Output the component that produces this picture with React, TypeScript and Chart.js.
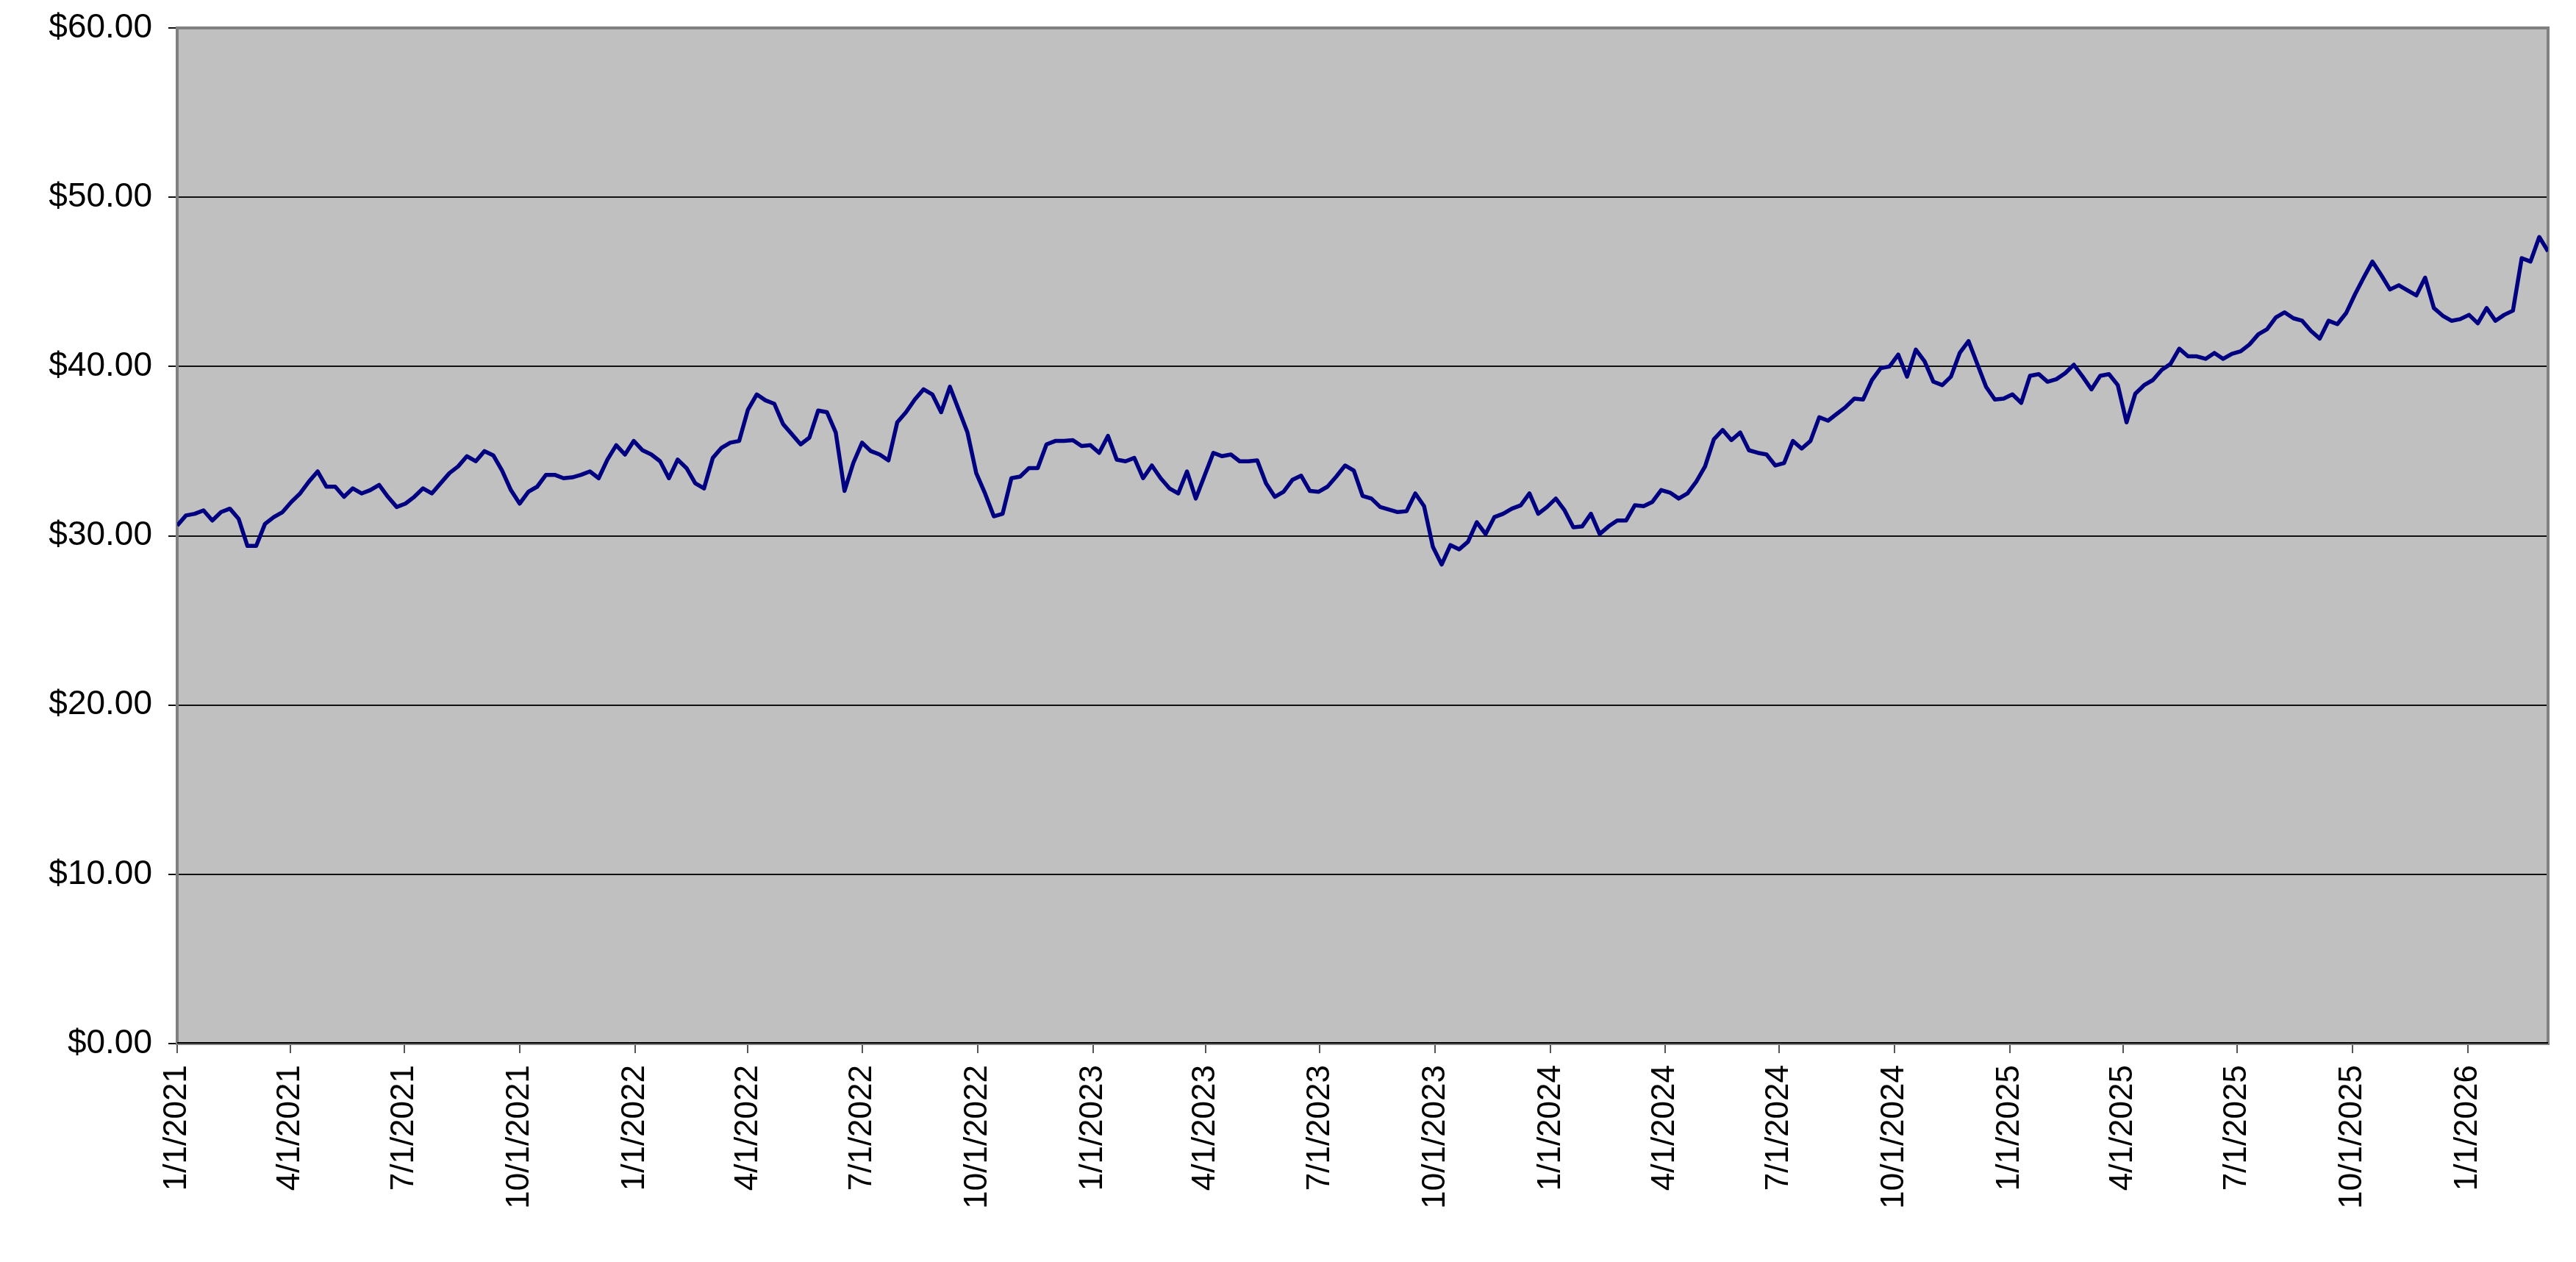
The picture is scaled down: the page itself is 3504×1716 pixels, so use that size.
import React, { useEffect, useRef } from "react";
import { Chart, registerables } from "chart.js";

Chart.register(...registerables);

// ---- data (weekly closes) ----
const FIRST_WEEK = "1/1/2021";
const AXIS_START = "1/1/2021";
const AXIS_END = "3/6/2026";

const closes2021 = [
  30.6, 31.2, 31.3, 31.5, 30.9, 31.4, 31.6, 31.0, 29.4, 29.4, 30.7, 31.1, 31.4,
  32.0, 32.5, 33.2, 33.8, 32.9, 32.9, 32.3, 32.8, 32.5, 32.7, 33.0, 32.3, 31.7,
  31.9, 32.3, 32.8, 32.5, 33.1, 33.7, 34.1, 34.7, 34.4, 35.0, 34.75, 33.85, 32.7,
  31.9, 32.6, 32.9, 33.6, 33.6, 33.4, 33.45, 33.6, 33.8, 33.4, 34.5, 35.35, 34.8,
  35.6,
];
const closes2022 = [
  35.05, 34.8, 34.4, 33.4, 34.5, 34.0, 33.1, 32.8, 34.6, 35.2, 35.5, 35.6, 37.45,
  38.35, 38.0, 37.8, 36.6, 36.0, 35.4, 35.8, 37.4, 37.3, 36.1, 32.65, 34.3, 35.5,
  35.0, 34.8, 34.45, 36.7, 37.3, 38.05, 38.65, 38.35, 37.3, 38.8, 37.45, 36.1,
  33.7, 32.5, 31.15, 31.3, 33.4, 33.5, 34.0, 34.0, 35.4, 35.6, 35.6, 35.65, 35.3,
  35.35,
];
const closes2023 = [
  34.9, 35.9, 34.5, 34.4, 34.6, 33.4, 34.15, 33.4, 32.8, 32.5, 33.8, 32.2, 33.55,
  34.9, 34.7, 34.8, 34.4, 34.4, 34.45, 33.1, 32.3, 32.6, 33.3, 33.55, 32.65, 32.6,
  32.9, 33.5, 34.15, 33.85, 32.35, 32.2, 31.7, 31.55, 31.4, 31.45, 32.5, 31.75,
  29.35, 28.3, 29.45, 29.2, 29.65, 30.8, 30.1, 31.1, 31.3, 31.6, 31.8, 32.5, 31.3,
  31.7,
];
const closes2024 = [
  32.2, 31.5, 30.5, 30.55, 31.3, 30.1, 30.55, 30.9, 30.9, 31.8, 31.75, 32.0, 32.7,
  32.55, 32.2, 32.5, 33.2, 34.1, 35.7, 36.25, 35.65, 36.1, 35.05, 34.9, 34.8,
  34.15, 34.3, 35.6, 35.15, 35.6, 37.0, 36.8, 37.2, 37.6, 38.1, 38.05, 39.2, 39.9,
  40.0, 40.7, 39.4, 41.0, 40.3, 39.1, 38.9, 39.4, 40.8, 41.5, 40.15, 38.8, 38.05,
  38.1,
];
const closes2025 = [
  38.35, 37.85, 39.45, 39.55, 39.1, 39.25, 39.6, 40.1, 39.4, 38.65, 39.45, 39.55,
  38.9, 36.7, 38.4, 38.9, 39.2, 39.8, 40.15, 41.05, 40.6, 40.6, 40.45, 40.8, 40.45,
  40.75, 40.9, 41.3, 41.9, 42.2, 42.9, 43.2, 42.85, 42.7, 42.1, 41.65, 42.7, 42.5,
  43.15, 44.25, 45.25, 46.2, 45.4, 44.55, 44.8, 44.5, 44.2, 45.25, 43.45, 43.0,
  42.7, 42.8,
];
const closes2026 = [43.05, 42.55, 43.45, 42.7, 43.05, 43.3, 46.4, 46.2, 47.65, 46.8];

const TICK_DATES = [
  "1/1/2021", "4/1/2021", "7/1/2021", "10/1/2021",
  "1/1/2022", "4/1/2022", "7/1/2022", "10/1/2022",
  "1/1/2023", "4/1/2023", "7/1/2023", "10/1/2023",
  "1/1/2024", "4/1/2024", "7/1/2024", "10/1/2024",
  "1/1/2025", "4/1/2025", "7/1/2025", "10/1/2025",
  "1/1/2026",
];
const Y_TICKS = [0, 10, 20, 30, 40, 50, 60];

// ---- helpers ----
const DAY_MS = 86400000;
function dayNum(mdy: string): number {
  const [m, d, y] = mdy.split("/").map(Number);
  return Date.UTC(y, m - 1, d) / DAY_MS;
}
function fmtDay(day: number): string {
  const dt = new Date(Math.round(day) * DAY_MS);
  return `${dt.getUTCMonth() + 1}/${dt.getUTCDate()}/${dt.getUTCFullYear()}`;
}

const closes = [
  ...closes2021,
  ...closes2022,
  ...closes2023,
  ...closes2024,
  ...closes2025,
  ...closes2026,
];
const weekDays = closes.map((_, i) => dayNum(FIRST_WEEK) + 7 * i);

const X_FONT = { family: "'Liberation Sans', Arial, sans-serif", size: 44 };
const Y_FONT = { family: "'Liberation Sans', Arial, sans-serif", size: 46 };

const plotFrame = {
  id: "plotFrame",
  beforeDraw(chart: any) {
    const { ctx, chartArea: a } = chart;
    ctx.save();
    ctx.fillStyle = "#C0C0C0";
    ctx.fillRect(a.left, a.top, a.right - a.left, a.bottom - a.top);
    ctx.restore();
  },
  beforeDatasetsDraw(chart: any) {
    const { ctx, chartArea: a } = chart;
    ctx.save();
    ctx.strokeStyle = "#808080";
    ctx.lineWidth = 4;
    ctx.strokeRect(a.left, a.top, a.right - a.left, a.bottom - a.top);
    ctx.strokeStyle = "#000000";
    ctx.lineWidth = 2;
    ctx.beginPath();
    ctx.moveTo(a.left, a.bottom - 1);
    ctx.lineTo(a.right, a.bottom - 1);
    ctx.stroke();
    ctx.restore();
  },
};

export default function App() {
  const ref = useRef<HTMLCanvasElement | null>(null);

  useEffect(() => {
    document.body.style.margin = "0";
    document.body.style.overflow = "hidden";
    const canvas = ref.current;
    if (!canvas) return;
    const chart = new Chart(canvas, {
      type: "line",
      data: {
        datasets: [
          {
            data: closes.map((c, i) => ({ x: weekDays[i], y: c })),
            borderColor: "#000080",
            borderWidth: 5.5,
            pointRadius: 0,
            tension: 0,
            fill: false,
            borderJoinStyle: "round",
          },
        ],
      },
      options: {
        animation: false,
        responsive: false,
        devicePixelRatio: 1,
        layout: { padding: { top: 38, right: 38, left: 0, bottom: 0 } },
        plugins: { legend: { display: false }, tooltip: { enabled: false } },
        scales: {
          x: {
            type: "linear",
            min: dayNum(AXIS_START),
            max: dayNum(AXIS_END),
            afterBuildTicks: (s: any) => {
              s.ticks = TICK_DATES.map((d) => ({ value: dayNum(d) }));
            },
            afterFit: (s: any) => {
              s.height = 297;
              s.paddingLeft = 0;
              s.paddingRight = 0;
            },
            ticks: {
              autoSkip: false,
              minRotation: 90,
              maxRotation: 90,
              padding: 16,
              color: "#000",
              font: X_FONT,
              callback: (v: any) => fmtDay(Number(v)),
            },
            grid: {
              drawOnChartArea: false,
              drawTicks: true,
              tickLength: 13,
              color: "#555",
              lineWidth: 2,
            },
            border: { display: false },
          },
          y: {
            min: 0,
            max: 60,
            afterBuildTicks: (s: any) => {
              s.ticks = Y_TICKS.map((v) => ({ value: v }));
            },
            afterFit: (s: any) => {
              s.width = 241;
              s.paddingTop = 0;
              s.paddingBottom = 0;
            },
            ticks: {
              padding: 22,
              color: "#000",
              font: Y_FONT,
              callback: (v: any) => "$" + Number(v).toFixed(2),
            },
            grid: {
              color: "#111",
              lineWidth: 2,
              tickLength: 12,
              drawTicks: true,
            },
            border: { display: false },
          },
        },
      },
      plugins: [plotFrame],
    } as any);
    return () => chart.destroy();
  }, []);

  return (
    <div style={{ width: 3504, height: 1716 }}>
      <canvas ref={ref} width={3504} height={1716} style={{ width: 3504, height: 1716, display: "block" }} />
    </div>
  );
}
